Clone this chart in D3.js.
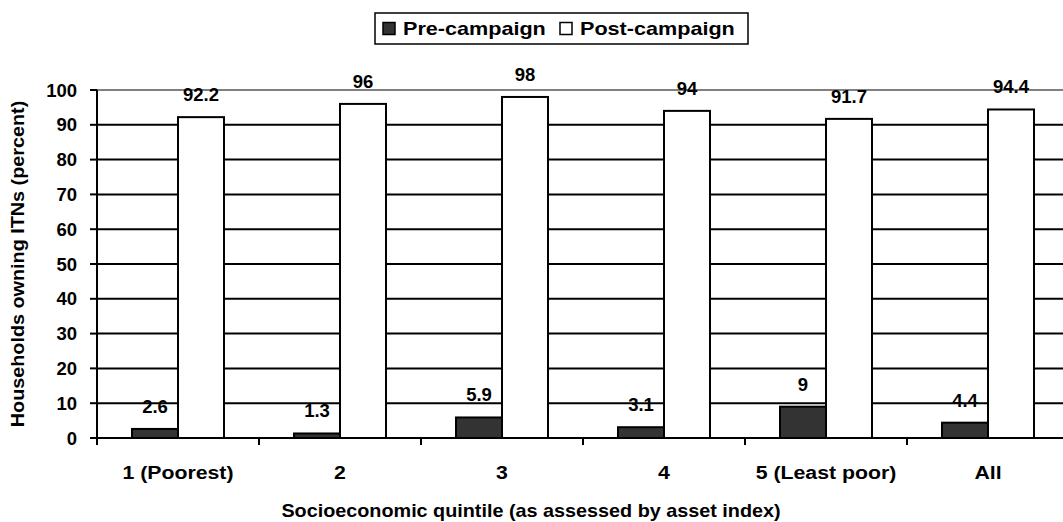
<!DOCTYPE html>
<html>
<head>
<meta charset="utf-8">
<script src="https://cdn.jsdelivr.net/npm/d3@7"></script>
<style>
  body { margin: 0; background: #fff; }
  text { font-family: "Liberation Sans", Arial, sans-serif; font-weight: bold; fill: #000; }
</style>
</head>
<body>
<div id="chart"></div>
<script>
var categories = ["1 (Poorest)", "2", "3", "4", "5 (Least poor)", "All"];
var seriesNames = ["Pre-campaign", "Post-campaign"];
var preCampaign = [2.6, 1.3, 5.9, 3.1, 9, 4.4];
var postCampaign = [92.2, 96, 98, 94, 91.7, 94.4];
var yTicks = [0, 10, 20, 30, 40, 50, 60, 70, 80, 90, 100];

var W = 1063, H = 522;
var margin = { top: 90, right: -6, bottom: 84, left: 97 };
var width = W - margin.left - margin.right,
	height = H - margin.top - margin.bottom;

var svg = d3.select("#chart").append("svg")
	.attr("width", W)
	.attr("height", H);

// text helper: positions via transform so words can be stretched a bit wider like the original
function label(sel, x, y, sx, rot) {
	return sel.attr("transform", "translate(" + x + "," + y + ")" + (rot ? " rotate(" + rot + ")" : "") + " scale(" + sx + ",1)");
}

var g = svg.append("g").attr("transform", "translate(" + margin.left + "," + margin.top + ")");

var x0 = d3.scaleBand().domain(categories).range([0, width]);
var x1 = d3.scaleBand().domain(seriesNames).range([35, x0.bandwidth() - 35]);
var y = d3.scaleLinear().domain([0, 100]).range([height, 0]);

// grid lines
g.selectAll(".grid").data(yTicks.filter(function (d) { return d > 0; })).enter()
	.append("line")
	.attr("x1", 0).attr("x2", width)
	.attr("y1", function (d) { return y(d); }).attr("y2", function (d) { return y(d); })
	.attr("stroke", function (d) { return d === 100 ? "#808080" : "#000"; })
	.attr("stroke-width", 2);

var rows = categories.map(function (c, i) {
	return { cat: c, vals: [{ s: seriesNames[0], v: preCampaign[i] }, { s: seriesNames[1], v: postCampaign[i] }] };
});

var grp = g.selectAll(".cat").data(rows).enter().append("g")
	.attr("transform", function (d) { return "translate(" + x0(d.cat) + ",0)"; });

grp.selectAll("rect").data(function (d) { return d.vals; }).enter()
	.append("rect")
	.attr("x", function (d) { return x1(d.s); })
	.attr("width", x1.bandwidth())
	.attr("y", function (d) { return y(d.v); })
	.attr("height", function (d) { return height - y(d.v); })
	.attr("fill", function (d) { return d.s === seriesNames[0] ? "#333333" : "#ffffff"; })
	.attr("stroke", "#000")
	.attr("stroke-width", 2);

grp.selectAll(".val").data(function (d) { return d.vals; }).enter()
	.append("text")
	.attr("text-anchor", "middle")
	.style("font-size", "18.5px")
	.text(function (d) { return d.v; })
	.each(function (d) {
		label(d3.select(this), x1(d.s) + x1.bandwidth() / 2, y(d.v) - 16, 1);
	});

// y axis
g.append("line").attr("x1", 0).attr("x2", 0).attr("y1", 0).attr("y2", height)
	.attr("stroke", "#000").attr("stroke-width", 2);
g.selectAll(".ytick").data(yTicks).enter().append("line")
	.attr("x1", -7).attr("x2", 0)
	.attr("y1", function (d) { return y(d); }).attr("y2", function (d) { return y(d); })
	.attr("stroke", "#000").attr("stroke-width", 2);
g.selectAll(".ylab").data(yTicks).enter().append("text")
	.attr("text-anchor", "end")
	.attr("dy", "0.36em")
	.style("font-size", "18.5px")
	.text(function (d) { return d; })
	.each(function (d) { label(d3.select(this), -20, y(d), 1); });

// x axis
g.append("line").attr("x1", 0).attr("x2", width).attr("y1", height).attr("y2", height)
	.attr("stroke", "#000").attr("stroke-width", 2);
g.selectAll(".xtick").data(categories).enter().append("line")
	.attr("x1", function (d) { return x0(d); }).attr("x2", function (d) { return x0(d); })
	.attr("y1", height).attr("y2", height + 7)
	.attr("stroke", "#000").attr("stroke-width", 2);
g.selectAll(".xlab").data(categories).enter().append("text")
	.attr("text-anchor", "middle")
	.style("font-size", "18.5px")
	.text(function (d) { return d; })
	.each(function (d) { label(d3.select(this), x0(d) + x0.bandwidth() / 2, height + 41, 1.15); });

// axis titles
label(svg.append("text").attr("text-anchor", "middle").style("font-size", "18px")
	.text("Socioeconomic quintile (as assessed by asset index)"), 531, 517, 1.1);
label(svg.append("text").attr("text-anchor", "middle").style("font-size", "18px")
	.text("Households owning ITNs (percent)"), 24, 264, 1.1, -90);

// legend
var lg = svg.append("g");
lg.append("rect").attr("x", 375).attr("y", 13).attr("width", 373).attr("height", 31)
	.attr("fill", "#fff").attr("stroke", "#000").attr("stroke-width", 1.5);
var legX = [383, 560];
seriesNames.forEach(function (s, i) {
	lg.append("rect").attr("x", legX[i]).attr("y", 22.5).attr("width", 12).attr("height", 12)
		.attr("fill", i === 0 ? "#333333" : "#fff").attr("stroke", "#000").attr("stroke-width", 1.5);
	label(lg.append("text").style("font-size", "18px").text(s), legX[i] + 20, 35, 1.2);
});
</script>
</body>
</html>
